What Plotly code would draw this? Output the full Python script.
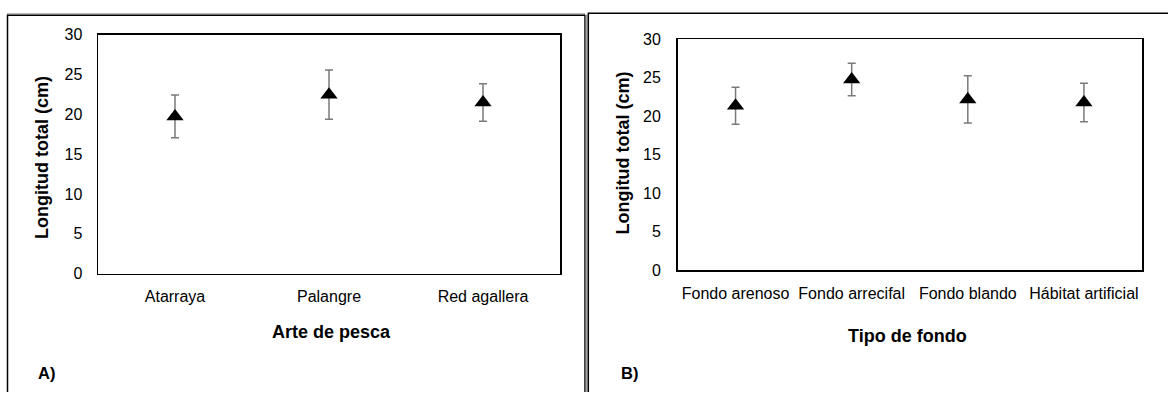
import plotly.graph_objects as go

W, H = 1168, 401

# Panel A data
arte_cats = ["Atarraya", "Palangre", "Red agallera"]
arte_mean = [19.75, 22.48, 21.5]
arte_err = [2.7, 3.1, 2.35]

# Panel B data
fondo_cats = ["Fondo arenoso", "Fondo arrecifal", "Fondo blando", "Hábitat artificial"]
fondo_mean = [21.38, 24.78, 22.2, 21.8]
fondo_err = [2.4, 2.12, 3.07, 2.49]

y_ticks = [0, 5, 10, 15, 20, 25, 30]

FONT = "Liberation Sans, Arial, sans-serif"

def px_x(x):
    return x / W

def px_y(y):
    return 1 - y / H

fig = go.Figure()

marker = dict(symbol="triangle-up", size=15, color="black", line=dict(width=0))
err_style = dict(type="data", color="#7a7a7a", thickness=1.5, width=4)

fig.add_trace(go.Scatter(x=arte_cats, y=arte_mean, mode="markers", marker=marker,
                         error_y=dict(array=arte_err, **err_style),
                         xaxis="x", yaxis="y", showlegend=False))
fig.add_trace(go.Scatter(x=fondo_cats, y=fondo_mean, mode="markers", marker=marker,
                         error_y=dict(array=fondo_err, **err_style),
                         xaxis="x2", yaxis="y2", showlegend=False))

ax_common = dict(showline=True, mirror=True, linecolor="black", linewidth=1.5,
                 showgrid=False, zeroline=False, ticks="", fixedrange=True,
                 tickfont=dict(family=FONT, size=16, color="black"))

fig.update_layout(
    width=W, height=H,
    margin=dict(l=0, r=0, t=0, b=0),
    paper_bgcolor="white", plot_bgcolor="white",
    xaxis=dict(domain=[px_x(98), px_x(560)], type="category",
               range=[-0.5, len(arte_cats) - 0.5], anchor="y",
               ticklabelstandoff=8, **ax_common),
    yaxis=dict(domain=[px_y(277.3), px_y(28)], range=[0, 30],
               tickvals=y_ticks, anchor="x", ticklabelstandoff=11, **ax_common),
    xaxis2=dict(domain=[px_x(677.5), px_x(1142)], type="category",
                range=[-0.5, len(fondo_cats) - 0.5], anchor="y2",
                ticklabelstandoff=8, **ax_common),
    yaxis2=dict(domain=[px_y(274), px_y(32.7)], range=[0, 30],
                tickvals=y_ticks, anchor="x2", ticklabelstandoff=12, **ax_common),
)

title_font = dict(family=FONT, size=18, color="black")
label_font = dict(family=FONT, size=16.5, color="black")

annotations = [
    dict(text="<b>Arte de pesca</b>", x=px_x(331), y=px_y(338), font=title_font),
    dict(text="<b>Longitud total (cm)</b>", x=px_x(42.5), y=px_y(156), textangle=-90, font=title_font),
    dict(text="<b>A)</b>", x=px_x(46), y=px_y(381), font=label_font),
    dict(text="<b>Tipo de fondo</b>", x=px_x(907), y=px_y(343), font=title_font),
    dict(text="<b>Longitud total (cm)</b>", x=px_x(623), y=px_y(152), textangle=-90, font=title_font),
    dict(text="<b>B)</b>", x=px_x(629), y=px_y(381), font=label_font),
]
for a in annotations:
    a.update(xref="paper", yref="paper", showarrow=False, xanchor="center", yanchor="middle")
fig.update_layout(annotations=annotations)

def seg(x0, y0, x1, y1, color="black", width=1.5):
    return dict(type="line", xref="paper", yref="paper",
                x0=px_x(x0), y0=px_y(y0), x1=px_x(x1), y1=px_y(y1),
                line=dict(color=color, width=width), layer="above")

shapes = [
    # panel A frame
    seg(7, 6, 585, 6, color="#a0a0a0", width=1),
    seg(7, 7.5, 585, 7.5),
    seg(7.5, 7, 7.5, 401),
    seg(585, 7, 585, 401),
    seg(586.5, 7, 586.5, 401, color="#a0a0a0", width=2),
    # panel B frame
    seg(588.3, 5, 588.3, 401),
    seg(588, 5.5, 1168, 5.5),
]
fig.update_layout(shapes=shapes)

fig.write_html("out.html",
               config={"displayModeBar": False, "staticPlot": True},
               post_script="document.body.style.margin='0';document.body.style.overflow='hidden';")
